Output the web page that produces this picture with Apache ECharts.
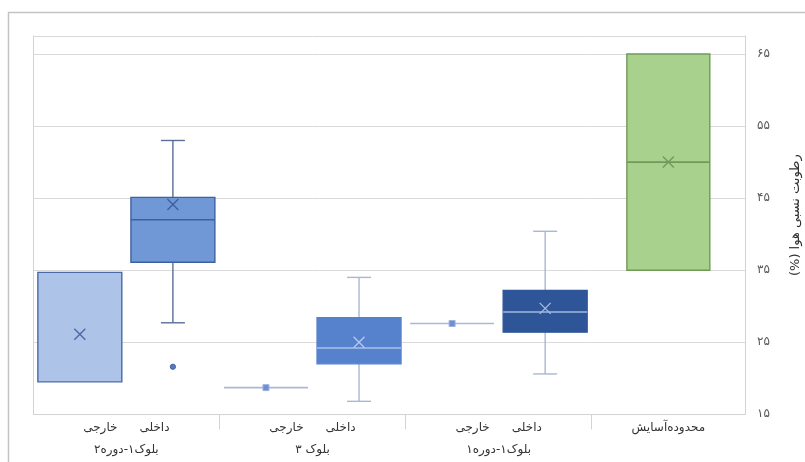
<!DOCTYPE html>
<html><head><meta charset="utf-8">
<script src="https://cdn.jsdelivr.net/npm/echarts@6/dist/echarts.min.js"></script>
<style>html,body{margin:0;padding:0;background:#fff}#c{width:805px;height:462px}</style>
</head><body><div id="c"></div>
<script>
// ---- data ----
const groupNames = ['بلوک۱-دوره۲', 'بلوک ۳', 'بلوک۱-دوره۱'];
const comfortName = 'محدوده‌آسایش';
const subLabels = ['خارجی', 'داخلی'];
const yTickValues = [15, 25, 35, 45, 55, 65];
const yTickLabels = ['۱۵', '۲۵', '۳۵', '۴۵', '۵۵', '۶۵'];
const axisTitle = 'رطوبت نسبی هوا (%)';

// each row: [min, Q1, median, Q3, max, mean]
const outsideStats = [
  [19.5, 19.5, 19.5, 34.7, 34.7, 26.1],
  [18.7, 18.7, 18.7, 18.7, 18.7, 18.7],
  [27.6, 27.6, 27.6, 27.6, 27.6, 27.6]
];
const insideStats = [
  [27.7, 36.1, 42.0, 45.1, 53.0, 44.1],
  [16.8, 22.0, 24.2, 28.4, 34.0, 25.0],
  [20.6, 26.4, 29.2, 32.2, 40.4, 29.7]
];
const insideOutliers = [[21.6], [], []];
const comfortStats = [[35, 35, 50, 65, 65, 50]];

// ---- styles ----
const outsideStyle = [
  {fill: '#adc3e8', stroke: '#4a69a6', whisker: '#4a69a6', median: '#4a69a6', mean: '#4a69a6', meanShape: 'x'},
  {fill: 'none', stroke: '#a9b8d6', whisker: '#a9b8d6', median: '#a9b8d6', mean: '#6d8fd6', meanShape: 'sq'},
  {fill: 'none', stroke: '#a9b8d6', whisker: '#a9b8d6', median: '#a9b8d6', mean: '#6d8fd6', meanShape: 'sq'}
];
const insideStyle = [
  {fill: '#7198d6', stroke: '#3f60a0', whisker: '#5a6f98', median: '#3f60a0', mean: '#3f60a0', meanShape: 'x'},
  {fill: '#5681cc', stroke: '#5681cc', whisker: '#a9b7d3', median: '#adc2e8', mean: '#b5c8ec', meanShape: 'x'},
  {fill: '#2e5597', stroke: '#2e5597', whisker: '#a9b7d3', median: '#a3b8df', mean: '#a3b8df', meanShape: 'x'}
];
const comfortStyle = [
  {fill: '#a9d18e', stroke: '#6f9a59', whisker: '#6f9a59', median: '#6f9a59', mean: '#6f9a59', meanShape: 'x'}
];

const FONT = 'DejaVu Sans';

function makeRender(styles, offset, boxFrac, outliers) {
  return function (params, api) {
    const i = params.dataIndex;
    const xi = api.value(0);
    const mn = api.value(1), q1 = api.value(2), md = api.value(3), q3 = api.value(4), mx = api.value(5), mean = api.value(6);
    const band = api.size([1, 0])[0];
    const cx = api.coord([xi, md])[0] + offset * band;
    const Y = v => api.coord([xi, v])[1];
    const st = styles[i];
    const hw = band * boxFrac / 2;
    const cap = 12;
    const ch = [];
    const ln = (x1, y1, x2, y2, c, w) => ({type: 'line', shape: {x1, y1, x2, y2}, style: {stroke: c, lineWidth: w || 1.4}});
    if (mx > q3) {
      ch.push(ln(cx, Y(q3), cx, Y(mx), st.whisker));
      ch.push(ln(cx - cap, Y(mx), cx + cap, Y(mx), st.whisker));
    }
    if (mn < q1) {
      ch.push(ln(cx, Y(q1), cx, Y(mn), st.whisker));
      ch.push(ln(cx - cap, Y(mn), cx + cap, Y(mn), st.whisker));
    }
    if (q3 > q1) {
      ch.push({type: 'rect', shape: {x: cx - hw, y: Y(q3), width: 2 * hw, height: Y(q1) - Y(q3)},
        style: {fill: st.fill, stroke: st.stroke, lineWidth: 1.4}});
      if (md > q1 && md < q3) ch.push(ln(cx - hw, Y(md), cx + hw, Y(md), st.median, 1.6));
    } else {
      ch.push(ln(cx - hw, Y(q1), cx + hw, Y(q1), st.stroke, 1.6));
    }
    const my = Y(mean);
    if (st.meanShape === 'x') {
      const s = 5.5;
      ch.push(ln(cx - s, my - s, cx + s, my + s, st.mean, 1.4));
      ch.push(ln(cx - s, my + s, cx + s, my - s, st.mean, 1.4));
    } else {
      ch.push({type: 'rect', shape: {x: cx - 3, y: my - 3, width: 6, height: 6}, style: {fill: st.mean, stroke: '#9fb3dc', lineWidth: 1}});
    }
    if (outliers && outliers[i]) {
      outliers[i].forEach(v => ch.push({type: 'circle', shape: {cx: cx, cy: Y(v), r: 2.6},
        style: {fill: '#5b7bbb', stroke: '#3f60a0', lineWidth: 1}}));
    }
    return {type: 'group', children: ch};
  };
}

const gridLine = {lineStyle: {color: '#d9d9d9', width: 1}};
const frameLine = {show: true, lineStyle: {color: '#d3d3d3', width: 1}};
const yLabelFmt = v => { const k = yTickValues.indexOf(v); return k < 0 ? '' : yTickLabels[k]; };

const chart = echarts.init(document.getElementById('c'), null, {renderer: 'canvas'});
chart.setOption({
  backgroundColor: '#ffffff',
  animation: false,
  graphic: [{type: 'rect', silent: true, z: -1, shape: {x: 8.5, y: 12.5, width: 830, height: 480},
    style: {fill: null, stroke: '#c4c4c4', lineWidth: 1.5}}],
  grid: [
    {left: 33.3, right: 213.3, top: 36, bottom: 47.7},
    {left: 591.7, right: 60, top: 36, bottom: 47.7}
  ],
  xAxis: [
    {gridIndex: 0, type: 'category', data: groupNames,
      axisLine: frameLine,
      axisTick: {show: true, interval: idx => idx !== 0, length: 15, lineStyle: {color: '#d3d3d3'}},
      splitLine: {show: false},
      axisLabel: {interval: 0, margin: 3,
        formatter: v => '{a|' + subLabels[0] + '}{b|' + subLabels[1] + '}\n{g|' + v + '}',
        rich: {
          a: {fontFamily: FONT, fontSize: 12, lineHeight: 22, color: '#333'},
          b: {fontFamily: FONT, fontSize: 12, lineHeight: 22, color: '#333', padding: [0, 0, 0, 22]},
          g: {fontFamily: FONT, fontSize: 12, lineHeight: 22, color: '#333'}
        }}},
    {gridIndex: 1, type: 'category', data: [comfortName],
      axisLine: frameLine, axisTick: {show: false}, splitLine: {show: false},
      axisLabel: {interval: 0, margin: 3, fontFamily: FONT, fontSize: 12, lineHeight: 22, color: '#333'}}
  ],
  yAxis: [
    {gridIndex: 0, type: 'value', min: 15, max: 67.5, interval: 10,
      axisLine: frameLine, axisTick: {show: false}, axisLabel: {show: false}, splitLine: gridLine},
    {gridIndex: 1, type: 'value', position: 'right', min: 15, max: 67.5, interval: 10,
      axisLine: frameLine, axisTick: {show: false}, splitLine: gridLine,
      axisLabel: {formatter: yLabelFmt, margin: 12, color: '#595959', fontSize: 12, fontFamily: FONT},
      name: axisTitle + '\u200F', nameLocation: 'middle', nameRotate: 90, nameGap: 44,
      nameTextStyle: {fontFamily: FONT, fontSize: 13, color: '#333', padding: [0, 0, 0, 20]}}
  ],
  series: [
    {type: 'custom', name: subLabels[0], xAxisIndex: 0, yAxisIndex: 0, clip: false, silent: true,
      data: outsideStats.map((s, i) => [i].concat(s)), encode: {x: 0, y: [1, 2, 3, 4, 5, 6]},
      renderItem: makeRender(outsideStyle, -0.25, 0.451, null)},
    {type: 'custom', name: subLabels[1], xAxisIndex: 0, yAxisIndex: 0, clip: false, silent: true,
      data: insideStats.map((s, i) => [i].concat(s)), encode: {x: 0, y: [1, 2, 3, 4, 5, 6]},
      renderItem: makeRender(insideStyle, 0.25, 0.451, insideOutliers)},
    {type: 'custom', name: comfortName, xAxisIndex: 1, yAxisIndex: 1, clip: false, silent: true,
      data: comfortStats.map((s, i) => [i].concat(s)), encode: {x: 0, y: [1, 2, 3, 4, 5, 6]},
      renderItem: makeRender(comfortStyle, 0, 0.541, null)}
  ]
});
</script></body></html>
